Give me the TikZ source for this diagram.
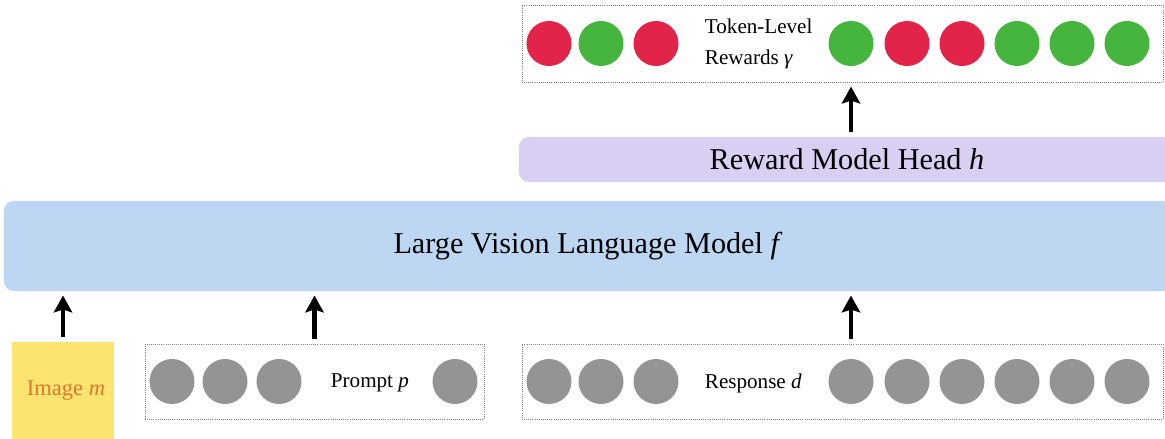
\documentclass[tikz,border=0pt]{standalone}
\usepackage{fontspec}
\setmainfont{Liberation Serif}
\usetikzlibrary{arrows.meta}
\definecolor{lvlmblue}{HTML}{BDD7F3}
\definecolor{headlav}{HTML}{D9CFF2}
\definecolor{imgyellow}{HTML}{FDE370}
\definecolor{imgorange}{HTML}{DB7A2C}
\definecolor{rewred}{HTML}{E2234A}
\definecolor{rewgreen}{HTML}{46B53E}
\definecolor{tokgray}{HTML}{949494}
\begin{document}
\begin{tikzpicture}[x=0.025cm,y=-0.025cm,
    tok/.style={circle,minimum size=1.125cm,inner sep=0pt},
    seqbox/.style={draw=gray,densely dotted,line width=0.5pt,minimum width=16.025cm,minimum height=1.875cm},
    bigtext/.style={font=\fontsize{21.5}{26}\selectfont},
    smalltext/.style={font=\fontsize{15}{22}\selectfont,align=left,anchor=west},
    uparrow/.style={-{Stealth[width=13pt,length=12pt,inset=2pt]},line width=3.2pt,shorten <=3pt,shorten >=3pt}]
    \useasboundingbox (0,0) rectangle (1165,439);
    % boxes
    \node[fill=lvlmblue,rounded corners=7pt,minimum width=29.2cm,minimum height=2.25cm,bigtext] (lvlm) at (588,246) {Large Vision Language Model \textit{f}};
    \node[fill=headlav,rounded corners=7pt,minimum width=16.4cm,minimum height=1.125cm,bigtext] (head) at (847,159.5) {Reward Model Head \textit{h}};
    \node[seqbox,minimum height=1.925cm] (rew) at (842.5,43.5) {};
    \node[seqbox,minimum width=8.475cm] (prompt) at (314.5,381.5) {};
    \node[seqbox] (resp) at (842.5,381.5) {};
    \node[fill=imgyellow,minimum width=2.55cm,minimum height=2.575cm] (img) at (63,393.5) {};
    \node[text=imgorange,font=\fontsize{16}{22}\selectfont] (imglabel) at (66,391) {Image \textit{m}};
    % tokens
    \foreach \x/\c [count=\i] in {549/rewred,601/rewgreen,656/rewred,851/rewgreen,907/rewred,962/rewred,1017/rewgreen,1072/rewgreen,1127/rewgreen}
        \node[tok,fill=\c] (g\i) at (\x,43.5) {};
    \node[smalltext] (rewlabel) at (700,44) {Token-Level\\Rewards \textit{γ}};
    \foreach \x [count=\i] in {172,225,279,455}
        \node[tok,fill=tokgray] (p\i) at (\x,381.5) {};
    \node[smalltext] (promptlabel) at (326,383) {Prompt \textit{p}};
    \foreach \x [count=\i] in {549,601,656,851,907,962,1017,1072,1127}
        \node[tok,fill=tokgray] (r\i) at (\x,381.5) {};
    \node[smalltext] (resplabel) at (700,383) {Response \textit{d}};
    % arrows
    \draw[uparrow] (img.north) -- (img |- lvlm.south);
    \draw[uparrow] (prompt.north) -- (prompt |- lvlm.south);
    \draw[uparrow] (r4 |- resp.north) -- (r4 |- lvlm.south);
    \draw[uparrow] (r4 |- head.north) -- (r4 |- rew.south);
\end{tikzpicture}
\end{document}
